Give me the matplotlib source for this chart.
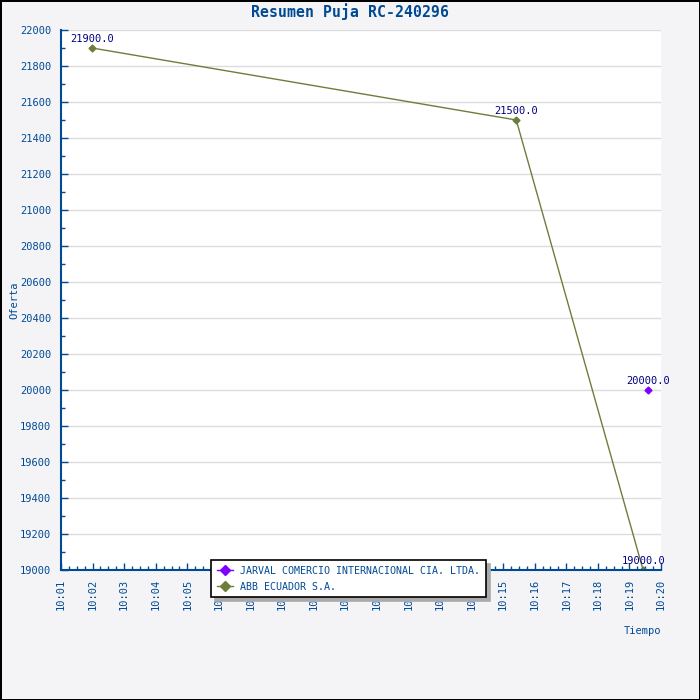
import matplotlib
matplotlib.use("Agg")
import matplotlib.pyplot as plt
from matplotlib.ticker import MultipleLocator, FixedLocator

# ---- data ----
title = "Resumen Puja RC-240296"
series_names = ["JARVAL COMERCIO INTERNACIONAL CIA. LTDA.", "ABB ECUADOR S.A."]
jarval_times = ["10:19:35"]
jarval_values = [20000.0]
abb_times = ["10:01:59", "10:15:25", "10:19:26"]
abb_values = [21900.0, 21500.0, 19000.0]
x_tick_labels = ["10:%02d" % m for m in range(1, 21)]
y_ticks = list(range(19000, 22001, 200))

def to_min(t):
    p = [int(v) for v in t.split(":")]
    h, m = p[0], p[1]
    s = p[2] if len(p) > 2 else 0
    return (h - 10) * 60 + m + s / 60.0

mono = "DejaVu Sans Mono"
blue = "#004a94"
navy = "#000080"
green = "#6b7f3a"
purple = "#7f00ff"

fig = plt.figure(figsize=(7, 7), dpi=100)
fig.patch.set_facecolor("#f4f4f6")
fig.patch.set_edgecolor("black")
fig.patch.set_linewidth(2)

ax = fig.add_axes([61/700, 130/700, 600/700, 540/700])
ax.set_facecolor("white")

jx = [to_min(t) for t in jarval_times]
ax_ = [to_min(t) for t in abb_times]
ax.plot(jx, jarval_values, color=purple, marker="D", markersize=3.5, lw=1,
        label=series_names[0])
ax.plot(ax_, abb_values, color=green, marker="D", markersize=3.5, lw=1,
        label=series_names[1])

for xs, ys in [(jx, jarval_values), (ax_, abb_values)]:
    for x, y in zip(xs, ys):
        ax.annotate("%.1f" % y, (x, y), xytext=(0, 3), textcoords="offset points",
                    ha="center", va="bottom", fontsize=7.5, family=mono, color=navy,
                    annotation_clip=False)

tick_pos = [to_min(t) for t in x_tick_labels]
ax.set_xlim(tick_pos[0], tick_pos[-1])
ax.set_ylim(19000, 22000)
ax.xaxis.set_major_locator(FixedLocator(tick_pos))
ax.set_xticklabels(x_tick_labels, rotation=90)
ax.xaxis.set_minor_locator(MultipleLocator(0.25))
ax.set_yticks(y_ticks)
ax.yaxis.set_minor_locator(MultipleLocator(100))

ax.grid(axis="y", which="major", color="#dcdcdc", lw=1)
ax.set_axisbelow(True)
for s in ["top", "right"]:
    ax.spines[s].set_visible(False)
for s in ["left", "bottom"]:
    ax.spines[s].set_color(blue)
    ax.spines[s].set_linewidth(1.5)
ax.tick_params(which="both", direction="in", colors=blue, labelsize=7.5, width=1)
ax.tick_params(which="major", length=5)
ax.tick_params(axis="y", which="major", pad=7)
ax.tick_params(axis="x", which="major", pad=6)
ax.tick_params(which="minor", length=3)
for lab in ax.get_xticklabels() + ax.get_yticklabels():
    lab.set_family(mono)
    lab.set_color(blue)

fig.text(0.5, 1 - 12/700, title, ha="center", va="center", fontsize=10.7,
         family=mono, weight="bold", color=blue)
fig.text(14/700, 1 - 300/700, "Oferta", rotation=90, ha="center", va="center",
         fontsize=7.5, family=mono, color=blue)
fig.text(642/700, 1 - 631/700, "Tiempo", ha="center", va="center",
         fontsize=7.5, family=mono, color=blue)

leg = ax.legend(loc="upper left", bbox_to_anchor=(211/700, 1 - 560/700),
                bbox_transform=fig.transFigure, borderaxespad=0, fancybox=False,
                shadow={"color": "#aaaaaa", "alpha": 1, "ox": 3, "oy": -3},
                edgecolor="black", framealpha=1,
                prop={"family": mono, "size": 7.2}, markerscale=1.6,
                handlelength=1.6, borderpad=0.55, labelspacing=0.6,
                handletextpad=0.75)
leg.get_frame().set_linewidth(1.2)
for t in leg.get_texts():
    t.set_color(blue)

fig.savefig("out.png", dpi=100, facecolor=fig.get_facecolor(),
            edgecolor=fig.get_edgecolor())
